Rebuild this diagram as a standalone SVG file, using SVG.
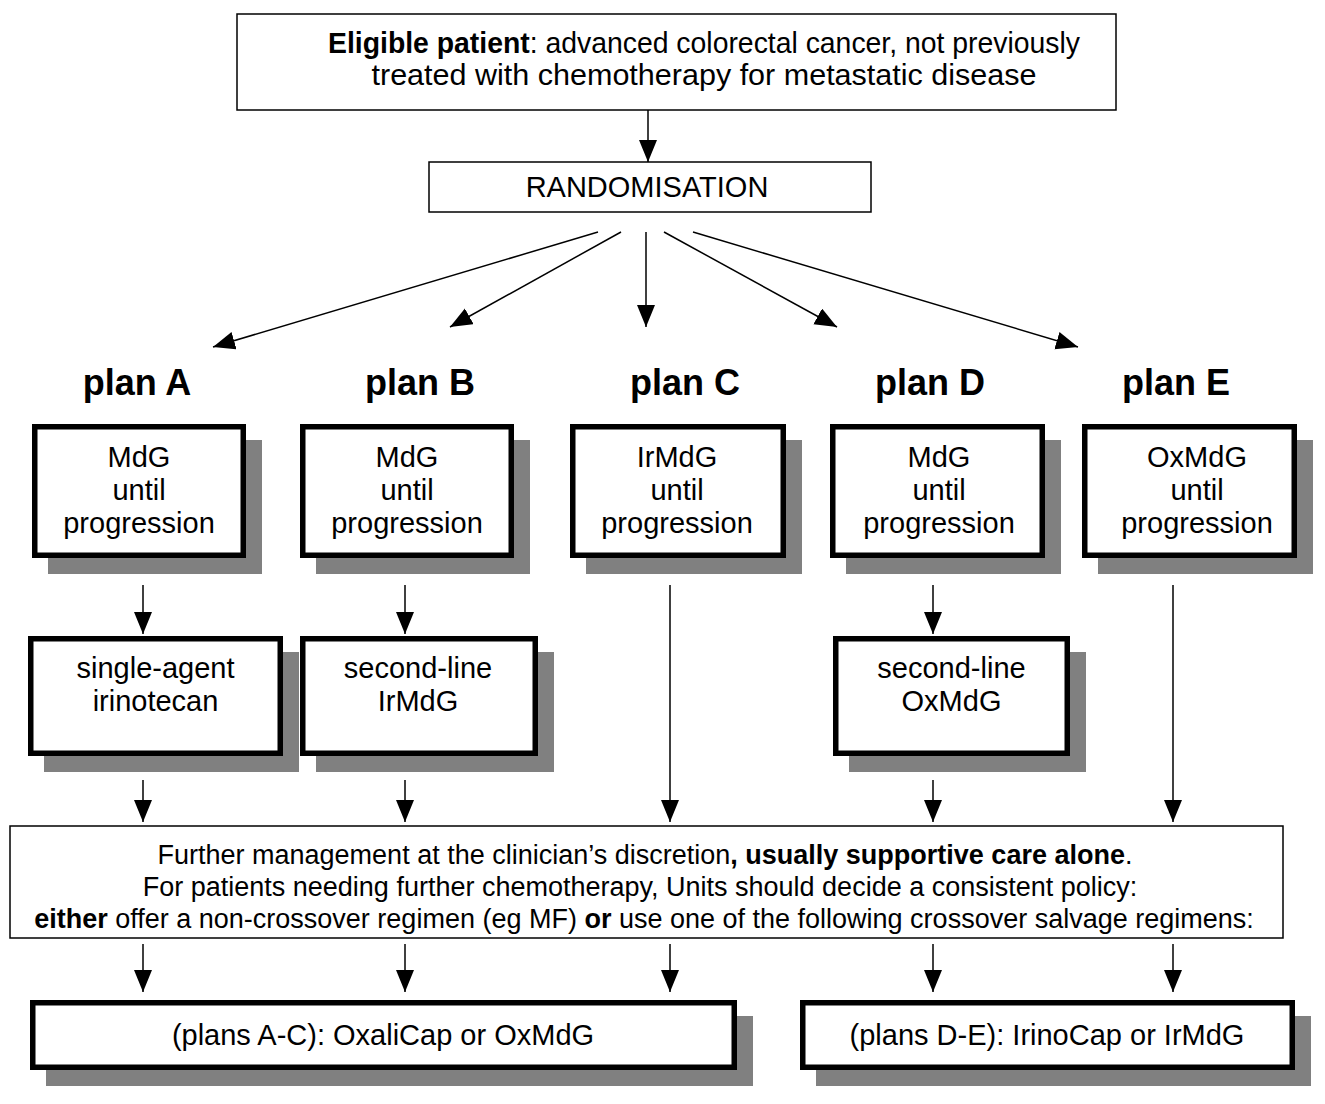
<svg xmlns="http://www.w3.org/2000/svg" width="1325" height="1104" viewBox="0 0 1325 1104">
<defs>
<style>
text{font-family:"Liberation Sans",Arial,sans-serif;fill:#000;text-anchor:middle}
.t{font-size:29px}
.top{font-size:29px}
.fm{font-size:27px}
.lbl{font-size:36px;font-weight:bold}
.b{font-weight:bold}
.thin{fill:#fff;stroke:#000;stroke-width:1.5}
.thick{fill:#fff;stroke:#000;stroke-width:5.5}
.sh{fill:#808080}
.c{stroke:#000;stroke-width:1.5;fill:none}
</style>
<marker id="ah" markerUnits="userSpaceOnUse" markerWidth="24" markerHeight="20" refX="22" refY="9" orient="auto">
<path d="M0,0 L22,9 L0,18 Z" fill="#000"/>
</marker>
</defs>
<rect width="1325" height="1104" fill="#fff"/>

<g id="eligible">
<rect class="thin" x="237" y="14" width="879" height="96"/>
<text class="top" x="704" y="53" textLength="752" lengthAdjust="spacingAndGlyphs"><tspan class="b">Eligible patient</tspan>: advanced colorectal cancer, not previously</text>
<text class="top" x="704" y="85" textLength="665" lengthAdjust="spacingAndGlyphs">treated with chemotherapy for metastatic disease</text>
</g>

<g id="randomisation">
<rect class="thin" x="429" y="162" width="442" height="50"/>
<text class="t" x="647" y="197">RANDOMISATION</text>
</g>

<g id="labels">
<text class="lbl" x="137" y="395">plan A</text>
<text class="lbl" x="420" y="395">plan B</text>
<text class="lbl" x="685" y="395">plan C</text>
<text class="lbl" x="930" y="395">plan D</text>
<text class="lbl" x="1176" y="395">plan E</text>
</g>

<g id="planA">
<rect class="sh" x="48" y="440" width="214" height="134"/>
<rect class="thick" x="34.75" y="426.75" width="208.5" height="128.5"/>
<text class="t" x="139" y="467">MdG</text>
<text class="t" x="139" y="500">until</text>
<text class="t" x="139" y="533">progression</text>
</g>
<g id="planB">
<rect class="sh" x="316" y="440" width="214" height="134"/>
<rect class="thick" x="302.75" y="426.75" width="208.5" height="128.5"/>
<text class="t" x="407" y="467">MdG</text>
<text class="t" x="407" y="500">until</text>
<text class="t" x="407" y="533">progression</text>
</g>
<g id="planC">
<rect class="sh" x="586" y="440" width="216" height="134"/>
<rect class="thick" x="572.75" y="426.75" width="210.5" height="128.5"/>
<text class="t" x="677" y="467">IrMdG</text>
<text class="t" x="677" y="500">until</text>
<text class="t" x="677" y="533">progression</text>
</g>
<g id="planD">
<rect class="sh" x="846" y="440" width="215" height="134"/>
<rect class="thick" x="832.75" y="426.75" width="209.5" height="128.5"/>
<text class="t" x="939" y="467">MdG</text>
<text class="t" x="939" y="500">until</text>
<text class="t" x="939" y="533">progression</text>
</g>
<g id="planE">
<rect class="sh" x="1098" y="440" width="215" height="134"/>
<rect class="thick" x="1084.75" y="426.75" width="209.5" height="128.5"/>
<text class="t" x="1197" y="467">OxMdG</text>
<text class="t" x="1197" y="500">until</text>
<text class="t" x="1197" y="533">progression</text>
</g>

<g id="secondA">
<rect class="sh" x="44" y="652" width="255" height="120"/>
<rect class="thick" x="30.75" y="638.75" width="249.5" height="114.5"/>
<text class="t" x="155.5" y="678">single-agent</text>
<text class="t" x="155.5" y="711">irinotecan</text>
</g>
<g id="secondB">
<rect class="sh" x="316" y="652" width="238" height="120"/>
<rect class="thick" x="302.75" y="638.75" width="232.5" height="114.5"/>
<text class="t" x="418" y="678">second-line</text>
<text class="t" x="418" y="711">IrMdG</text>
</g>
<g id="secondD">
<rect class="sh" x="849" y="652" width="237" height="120"/>
<rect class="thick" x="835.75" y="638.75" width="231.5" height="114.5"/>
<text class="t" x="951.5" y="678">second-line</text>
<text class="t" x="951.5" y="711">OxMdG</text>
</g>

<g id="further">
<rect class="thin" x="10" y="826" width="1273" height="112"/>
<text class="fm" x="645" y="864">Further management at the clinician’s discretion<tspan class="b">, usually supportive care alone</tspan>.</text>
<text class="fm" x="640" y="896">For patients needing further chemotherapy, Units should decide a consistent policy:</text>
<text class="fm" x="644" y="928"><tspan class="b">either</tspan> offer a non-crossover regimen (eg MF) <tspan class="b">or</tspan> use one of the following crossover salvage regimens:</text>
</g>

<g id="salvageAC">
<rect class="sh" x="46" y="1016" width="707" height="70"/>
<rect class="thick" x="32.75" y="1002.75" width="701.5" height="64.5"/>
<text class="t" x="383" y="1045">(plans A-C): OxaliCap or OxMdG</text>
</g>
<g id="salvageDE">
<rect class="sh" x="816" y="1016" width="495" height="70"/>
<rect class="thick" x="802.75" y="1002.75" width="489.5" height="64.5"/>
<text class="t" x="1047" y="1045">(plans D-E): IrinoCap or IrMdG</text>
</g>

<g id="connectors">
<line class="c" x1="648" y1="110" x2="648" y2="162" marker-end="url(#ah)"/>
<line class="c" x1="598" y1="232" x2="213" y2="347" marker-end="url(#ah)"/>
<line class="c" x1="621" y1="232" x2="450" y2="327" marker-end="url(#ah)"/>
<line class="c" x1="646" y1="232" x2="646" y2="327" marker-end="url(#ah)"/>
<line class="c" x1="664" y1="232" x2="837" y2="327" marker-end="url(#ah)"/>
<line class="c" x1="693" y1="232" x2="1078" y2="347" marker-end="url(#ah)"/>
<line class="c" x1="143" y1="585" x2="143" y2="634" marker-end="url(#ah)"/>
<line class="c" x1="405" y1="585" x2="405" y2="634" marker-end="url(#ah)"/>
<line class="c" x1="933" y1="585" x2="933" y2="634" marker-end="url(#ah)"/>
<line class="c" x1="670" y1="585" x2="670" y2="822" marker-end="url(#ah)"/>
<line class="c" x1="1173" y1="585" x2="1173" y2="822" marker-end="url(#ah)"/>
<line class="c" x1="143" y1="780" x2="143" y2="822" marker-end="url(#ah)"/>
<line class="c" x1="405" y1="780" x2="405" y2="822" marker-end="url(#ah)"/>
<line class="c" x1="933" y1="780" x2="933" y2="822" marker-end="url(#ah)"/>
<line class="c" x1="143" y1="944" x2="143" y2="992" marker-end="url(#ah)"/>
<line class="c" x1="405" y1="944" x2="405" y2="992" marker-end="url(#ah)"/>
<line class="c" x1="670" y1="944" x2="670" y2="992" marker-end="url(#ah)"/>
<line class="c" x1="933" y1="944" x2="933" y2="992" marker-end="url(#ah)"/>
<line class="c" x1="1173" y1="944" x2="1173" y2="992" marker-end="url(#ah)"/>
</g>
</svg>
